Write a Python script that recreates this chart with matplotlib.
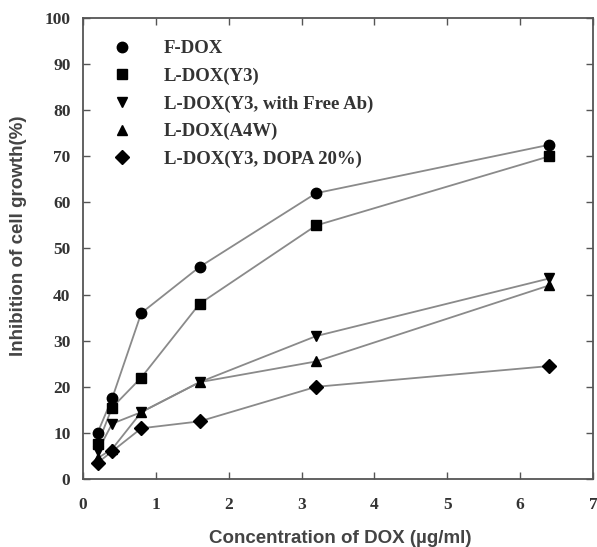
import matplotlib
matplotlib.use("Agg")
import matplotlib.pyplot as plt

conc = [0.2, 0.4, 0.8, 1.6, 3.2, 6.4]
series_names = ["F-DOX", "L-DOX(Y3)", "L-DOX(Y3, with Free Ab)", "L-DOX(A4W)", "L-DOX(Y3, DOPA 20%)"]
f_dox = [10.0, 17.5, 36.0, 46.0, 62.0, 72.5]
l_dox_y3 = [7.5, 15.5, 22.0, 38.0, 55.0, 70.0]
l_dox_free_ab = [6.0, 12.0, 14.5, 21.0, 31.0, 43.5]
l_dox_a4w = [4.5, 6.5, 14.5, 21.0, 25.5, 42.0]
l_dox_dopa = [3.5, 6.0, 11.0, 12.5, 20.0, 24.5]
markers = ["o", "s", "v", "^", "D"]
x_ticks = [0, 1, 2, 3, 4, 5, 6, 7]
y_ticks = [0, 10, 20, 30, 40, 50, 60, 70, 80, 90, 100]

fig = plt.figure(figsize=(5.97, 5.47), dpi=100)
ax = fig.add_axes([83/597, 68/547, 510/597, 461/547])

data = [f_dox, l_dox_y3, l_dox_free_ab, l_dox_a4w, l_dox_dopa]
sizes = [7.5, 7, 7.5, 7.5, 7.5]
for name, vals, m, s in zip(series_names, data, markers, sizes):
    ax.plot(conc, vals, color="#8a8a8a", lw=1.3, zorder=1)
    ax.plot(conc, vals, ls="none", marker=m, ms=s, color="black", zorder=2, label=name)

ax.set_xlim(0, 7)
ax.set_ylim(0, 100)
ax.set_xticks(x_ticks)
ax.set_yticks(y_ticks)
ax.tick_params(direction="in", top=True, right=True, length=5, width=1, color="#555555",
               labelsize=12.5)
ax.tick_params(axis="x", pad=13)
ax.tick_params(axis="y", pad=9)
for lab in ax.get_xticklabels() + ax.get_yticklabels():
    lab.set_fontfamily("Liberation Serif")
    lab.set_fontweight("bold")
    lab.set_color("#333333")
for sp in ax.spines.values():
    sp.set_color("#555555")
    sp.set_linewidth(1.3)

ax.set_xlabel("Concentration of DOX (\u00b5g/ml)", fontfamily="Liberation Sans", fontweight="bold",
              fontsize=13.5, color="#444444", va="center")
ax.set_ylabel("Inhibition of cell growth(%)", fontfamily="Liberation Sans", fontweight="bold",
              fontsize=13.5, color="#444444", va="center")
ax.xaxis.set_label_coords(0.504, -0.128)
ax.yaxis.set_label_coords(-0.127, 0.527)

leg = ax.legend(loc="upper left", bbox_to_anchor=(0.032, 0.98), frameon=False,
                prop={"family": "Liberation Serif", "weight": "bold", "size": 13.5},
                handlelength=1.0, handletextpad=1.75, labelspacing=0.55, borderaxespad=0.3)
for t in leg.get_texts():
    t.set_color("#333333")

fig.savefig("out.png", dpi=100, facecolor="white")
